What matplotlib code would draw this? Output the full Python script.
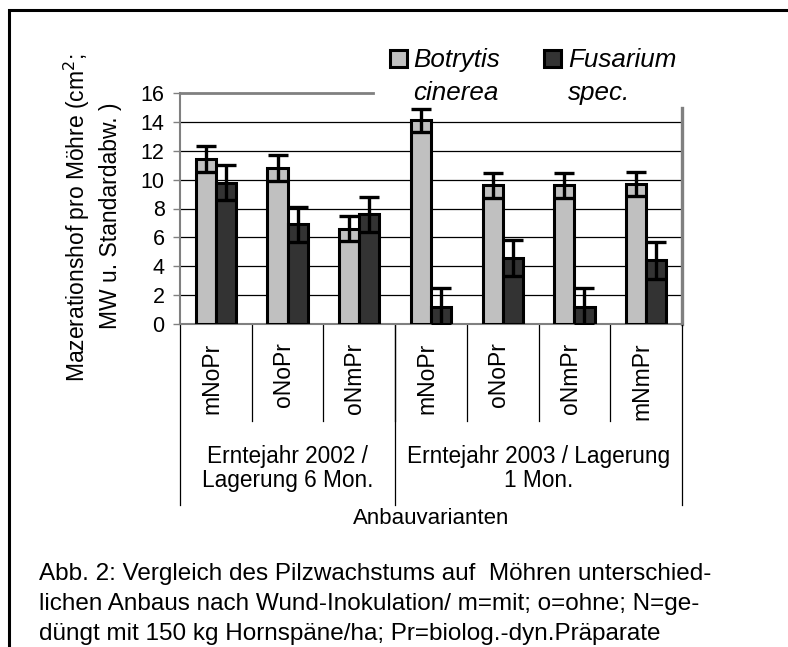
import numpy as np
import matplotlib
matplotlib.use("Agg")
import matplotlib.pyplot as plt
from matplotlib.patches import Rectangle
from matplotlib.transforms import blended_transform_factory

plt.rcParams['font.family'] = ['Liberation Sans', 'DejaVu Sans']

# Daten
varianten = ["mNoPr", "oNoPr", "oNmPr", "mNoPr", "oNoPr", "oNmPr", "mNmPr"]
gruppen = ["Erntejahr 2002 /\nLagerung 6 Mon.", "Erntejahr 2003 / Lagerung\n1 Mon."]
gruppen_n = [3, 4]
botrytis = [11.4, 10.8, 6.6, 14.1, 9.6, 9.6, 9.7]
botrytis_sd = [0.9, 0.9, 0.85, 0.8, 0.85, 0.85, 0.85]
fusarium = [9.8, 6.9, 7.6, 1.2, 4.6, 1.2, 4.4]
fusarium_sd = [1.2, 1.2, 1.2, 1.3, 1.25, 1.3, 1.25]
y_ticks = [0, 2, 4, 6, 8, 10, 12, 14, 16]
caption = ["Abb. 2: Vergleich des Pilzwachstums auf  Möhren unterschied-",
           "lichen Anbaus nach Wund-Inokulation/ m=mit; o=ohne; N=ge-",
           "düngt mit 150 kg Hornspäne/ha; Pr=biolog.-dyn.Präparate"]

W, H = 788, 647
fig = plt.figure(figsize=(W / 100, H / 100), dpi=100)

def fx(px):
    return px / W

def fy(py):
    return 1 - py / H

# Rahmen um die Abbildung
fig.patches.append(Rectangle((fx(9), fy(700)), fx(900), fy(10) - fy(700),
                             transform=fig.transFigure, fill=False,
                             edgecolor="black", linewidth=2.2))

ax = fig.add_axes([fx(180), fy(324), fx(682) - fx(180), fy(93) - fy(324)])

x = np.arange(len(varianten))
bw = 0.28
err_kw = dict(ecolor="black", elinewidth=2.4, capsize=7.5, capthick=2.4)
ax.bar(x - bw / 2, botrytis, bw, yerr=botrytis_sd, color="#c0c0c0",
       edgecolor="black", linewidth=2.2, error_kw=err_kw, zorder=3)
ax.bar(x + bw / 2, fusarium, bw, yerr=fusarium_sd, color="#333333",
       edgecolor="black", linewidth=2.2, error_kw=err_kw, zorder=3)

ax.set_xlim(-0.5, len(varianten) - 0.5)
ax.set_ylim(0, 16)
ax.set_yticks(y_ticks)
ax.tick_params(axis="y", labelsize=15.5, length=5, width=1, color="#808080", pad=6)
ax.set_xticks([])
for yt in y_ticks[1:-1]:
    ax.axhline(yt, color="black", linewidth=0.9, zorder=1)

for s in ["top", "right"]:
    ax.spines[s].set_visible(False)
ax.spines["left"].set_color("#808080")
ax.spines["left"].set_linewidth(1.5)
ax.spines["bottom"].set_color("#808080")
ax.spines["bottom"].set_linewidth(1.5)

# obere / rechte Begrenzung teilweise vom Legendenkasten verdeckt
ax.plot([0, 0.385], [1, 1], transform=ax.transAxes, color="#808080",
        linewidth=2, clip_on=False, zorder=2)
ax.plot([1, 1], [0, 14.96 / 16], transform=ax.transAxes, color="#808080",
        linewidth=2.4, clip_on=False, zorder=2)

# Kategorien unter der Achse
tr = blended_transform_factory(ax.transData, ax.transAxes)
for i in range(1, len(varianten)):
    ax.plot([i - 0.5, i - 0.5], [0, -0.42], transform=tr, color="black",
            linewidth=0.9, clip_on=False)
for i, lab in enumerate(varianten):
    ax.text(i - 0.06, -0.08, lab, transform=tr, rotation=90, ha="center",
            va="top", fontsize=16.5)

grenzen = np.concatenate([[0], np.cumsum(gruppen_n)]) - 0.5
for g in grenzen:
    ax.plot([g, g], [0, -0.784], transform=tr, color="black",
            linewidth=0.9, clip_on=False)
for i, lab in enumerate(gruppen):
    mid = (grenzen[i] + grenzen[i + 1]) / 2
    ax.text(mid, -0.625, lab, transform=tr, ha="center", va="center",
            fontsize=16.3, linespacing=1.05)

fig.text(fx(431), fy(518), "Anbauvarianten", ha="center", va="center", fontsize=16)

# Y-Achsenbeschriftung
fig.text(fx(77), fy(218), "Mazerationshof pro Möhre (cm$^2$;", rotation=90,
         ha="center", va="center", fontsize=16.5)
fig.text(fx(110), fy(216), "MW u. Standardabw. )", rotation=90,
         ha="center", va="center", fontsize=16.5)

# Legende
fig.patches.append(Rectangle((fx(390), fy(67)), fx(17), fy(50) - fy(67),
                             transform=fig.transFigure, facecolor="#c0c0c0",
                             edgecolor="black", linewidth=2.2))
fig.patches.append(Rectangle((fx(544), fy(67)), fx(17), fy(50) - fy(67),
                             transform=fig.transFigure, facecolor="#333333",
                             edgecolor="black", linewidth=2.2))
leg_kw = dict(fontsize=18.7, style="italic", ha="left", va="baseline")
fig.text(fx(413), fy(67), "Botrytis", **leg_kw)
fig.text(fx(413), fy(100), "cinerea", **leg_kw)
fig.text(fx(568), fy(67), "Fusarium", **leg_kw)
fig.text(fx(568), fy(100), "spec.", **leg_kw)

# Bildunterschrift
for k, zeile in enumerate(caption):
    fig.text(fx(39), fy(580 + 30 * k), zeile, ha="left", va="baseline",
             fontsize=17.5)

fig.savefig("out.png", dpi=100)
